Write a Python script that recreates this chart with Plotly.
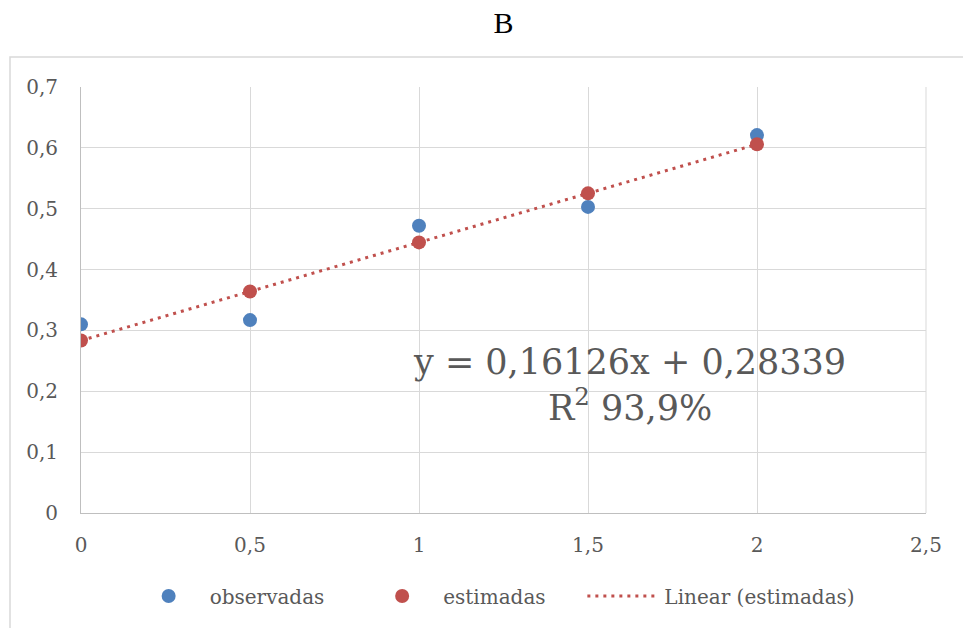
import numpy as np
import plotly.graph_objects as go

# Dose levels and measured / fitted responses
dose = [0, 0.5, 1, 1.5, 2]
observadas = [0.310, 0.317, 0.472, 0.503, 0.621]
estimadas = [0.28339, 0.36402, 0.44465, 0.52528, 0.60591]

x_ticks = [0, 0.5, 1, 1.5, 2, 2.5]
y_ticks = [0, 0.1, 0.2, 0.3, 0.4, 0.5, 0.6, 0.7]

BLUE = "#4F81BD"
RED = "#C0504D"
GRID = "#d9d9d9"
TEXT = "#595959"
SERIF = "DejaVu Serif"
NBSP = "\u00a0"

# Linear trend through the estimated values
slope, intercept = np.polyfit(dose, estimadas, 1)
trend_x = [min(dose), max(dose)]
trend_y = [intercept + slope * v for v in trend_x]

fig = go.Figure()
fig.add_trace(go.Scatter(
    x=dose, y=observadas, mode="markers", name="observadas" + NBSP * 5,
    marker=dict(color=BLUE, size=14),
))
fig.add_trace(go.Scatter(
    x=dose, y=estimadas, mode="markers", name="estimadas" + NBSP * 5,
    marker=dict(color=RED, size=14),
))
fig.add_trace(go.Scatter(
    x=trend_x, y=trend_y, mode="lines", name="Linear (estimadas)",
    line=dict(color=RED, width=3, dash="3px,5px"),
))

fig.update_layout(
    width=963, height=628,
    margin=dict(l=81, r=37, t=87, b=115),
    paper_bgcolor="white", plot_bgcolor="white",
    separators=",.",
    font=dict(family=SERIF, size=20, color=TEXT),
    title=dict(
        text="B", x=0.5, xref="paper", y=1 - 22 / 628, yanchor="middle",
        font=dict(family="Liberation Serif", size=30, color="black"),
    ),
    showlegend=True,
    legend=dict(
        orientation="h", x=0.0552, xanchor="left", y=-0.195, yanchor="middle",
        font=dict(family=SERIF, size=20, color=TEXT),
        itemwidth=72, bgcolor="rgba(0,0,0,0)",
    ),
    xaxis=dict(
        range=[0, 2.5], tickvals=x_ticks,
        showgrid=True, gridcolor=GRID, gridwidth=1,
        showline=True, linecolor="#bfbfbf", linewidth=1,
        zeroline=False, ticks="outside", ticklen=14, tickcolor="rgba(0,0,0,0)",
        tickfont=dict(family=SERIF, size=20, color=TEXT),
    ),
    yaxis=dict(
        range=[0, 0.7], tickvals=y_ticks,
        showgrid=True, gridcolor=GRID, gridwidth=1,
        showline=True, linecolor="#bfbfbf", linewidth=1,
        zeroline=False, ticks="outside", ticklen=18, tickcolor="rgba(0,0,0,0)",
        tickfont=dict(family=SERIF, size=20, color=TEXT),
    ),
)

# Right edge of the plot area drawn like a gridline
fig.add_shape(type="line", xref="paper", yref="paper", x0=1, x1=1, y0=0, y1=1,
              line=dict(color=GRID, width=1))

# Outer chart frame
fig.add_shape(type="rect", xref="paper", yref="paper",
              x0=(10 - 81) / 845, x1=1.2, y0=-0.6, y1=(513 - 57) / 426,
              line=dict(color=GRID, width=1.5), layer="below")

fig.add_annotation(
    x=1.624, y=0.21, xref="x", yref="y", showarrow=False,
    text=f"y = {slope:.5f}x + {intercept:.5f}".replace(".", ",") + "<br>R<sup>2</sup> 93,9%",
    font=dict(family=SERIF, size=35, color=TEXT), align="center",
)

fig.write_html("out.html")
